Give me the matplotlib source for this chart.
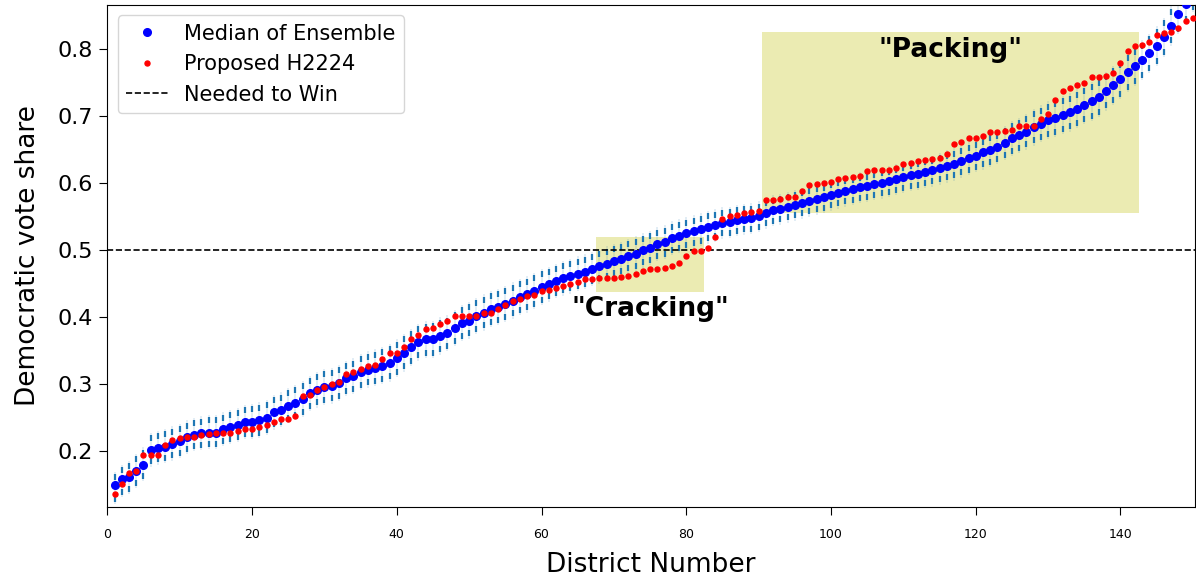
import matplotlib
matplotlib.use("Agg")
import matplotlib.pyplot as plt
from matplotlib.patches import Rectangle
import numpy as np

# districts 1..150, sorted by vote share
districts = list(range(1, 151))

median_ensemble = [
    0.150, 0.159, 0.162, 0.170, 0.179, 0.202, 0.205, 0.207, 0.211, 0.215,
    0.221, 0.225, 0.227, 0.228, 0.228, 0.233, 0.236, 0.239, 0.243, 0.244,
    0.246, 0.250, 0.258, 0.262, 0.268, 0.272, 0.278, 0.287, 0.292, 0.296,
    0.298, 0.302, 0.309, 0.312, 0.318, 0.322, 0.325, 0.328, 0.332, 0.339,
    0.347, 0.355, 0.363, 0.367, 0.367, 0.372, 0.376, 0.384, 0.391, 0.395,
    0.402, 0.407, 0.412, 0.415, 0.420, 0.425, 0.430, 0.434, 0.439, 0.445,
    0.449, 0.454, 0.458, 0.461, 0.465, 0.468, 0.472, 0.476, 0.480, 0.484,
    0.487, 0.491, 0.495, 0.500, 0.504, 0.509, 0.512, 0.518, 0.521, 0.525,
    0.528, 0.531, 0.535, 0.538, 0.541, 0.542, 0.545, 0.547, 0.548, 0.551,
    0.556, 0.560, 0.562, 0.565, 0.568, 0.571, 0.574, 0.577, 0.579, 0.583,
    0.586, 0.589, 0.591, 0.594, 0.596, 0.599, 0.601, 0.603, 0.606, 0.609,
    0.612, 0.614, 0.617, 0.619, 0.622, 0.626, 0.629, 0.633, 0.637, 0.641,
    0.646, 0.650, 0.654, 0.660, 0.667, 0.672, 0.677, 0.684, 0.689, 0.694,
    0.698, 0.702, 0.706, 0.711, 0.717, 0.722, 0.728, 0.737, 0.746, 0.755,
    0.766, 0.775, 0.784, 0.794, 0.805, 0.818, 0.835, 0.852, 0.867, 0.885,
]

proposed_h2224 = [
    0.137, 0.151, 0.168, 0.171, 0.194, 0.194, 0.195, 0.209, 0.217, 0.220,
    0.222, 0.222, 0.224, 0.226, 0.227, 0.227, 0.228, 0.230, 0.233, 0.234,
    0.236, 0.239, 0.243, 0.248, 0.248, 0.252, 0.282, 0.284, 0.292, 0.296,
    0.300, 0.303, 0.315, 0.319, 0.323, 0.327, 0.329, 0.338, 0.346, 0.347,
    0.355, 0.367, 0.374, 0.382, 0.384, 0.390, 0.395, 0.402, 0.402, 0.402,
    0.402, 0.406, 0.407, 0.413, 0.418, 0.425, 0.427, 0.432, 0.433, 0.439,
    0.441, 0.443, 0.446, 0.449, 0.452, 0.457, 0.457, 0.459, 0.459, 0.459,
    0.460, 0.462, 0.464, 0.469, 0.472, 0.472, 0.474, 0.477, 0.481, 0.491,
    0.499, 0.499, 0.504, 0.520, 0.547, 0.551, 0.553, 0.556, 0.557, 0.559,
    0.575, 0.575, 0.577, 0.580, 0.580, 0.589, 0.597, 0.599, 0.601, 0.602,
    0.606, 0.608, 0.610, 0.611, 0.618, 0.619, 0.620, 0.620, 0.622, 0.629,
    0.630, 0.633, 0.634, 0.636, 0.637, 0.644, 0.659, 0.661, 0.667, 0.667,
    0.671, 0.677, 0.677, 0.678, 0.679, 0.685, 0.686, 0.686, 0.696, 0.703,
    0.724, 0.737, 0.742, 0.747, 0.750, 0.758, 0.759, 0.760, 0.765, 0.780,
    0.797, 0.805, 0.806, 0.810, 0.821, 0.824, 0.826, 0.832, 0.842, 0.846,
]

# distance from the median up/down to the ensemble whisker marks
spread_up = [
    0.011, 0.013, 0.016, 0.018, 0.019, 0.018, 0.018, 0.019, 0.018, 0.018,
    0.017, 0.017, 0.017, 0.018, 0.018, 0.017, 0.018, 0.018, 0.018, 0.019,
    0.019, 0.019, 0.018, 0.018, 0.019, 0.019, 0.019, 0.018, 0.019, 0.019,
    0.019, 0.019, 0.018, 0.019, 0.019, 0.019, 0.019, 0.020, 0.020, 0.020,
    0.020, 0.020, 0.019, 0.019, 0.020, 0.020, 0.019, 0.019, 0.020, 0.020,
    0.019, 0.019, 0.019, 0.019, 0.019, 0.019, 0.019, 0.019, 0.019, 0.019,
    0.018, 0.018, 0.018, 0.018, 0.018, 0.018, 0.018, 0.018, 0.018, 0.018,
    0.018, 0.018, 0.018, 0.017, 0.017, 0.017, 0.017, 0.017, 0.017, 0.016,
    0.016, 0.016, 0.016, 0.015, 0.015, 0.015, 0.015, 0.014, 0.014, 0.014,
    0.014, 0.014, 0.014, 0.014, 0.014, 0.014, 0.014, 0.014, 0.014, 0.014,
    0.014, 0.014, 0.014, 0.014, 0.014, 0.014, 0.014, 0.014, 0.014, 0.014,
    0.014, 0.014, 0.014, 0.014, 0.015, 0.015, 0.015, 0.015, 0.016, 0.016,
    0.016, 0.017, 0.017, 0.018, 0.018, 0.018, 0.019, 0.019, 0.019, 0.020,
    0.020, 0.020, 0.020, 0.021, 0.021, 0.021, 0.021, 0.021, 0.021, 0.021,
    0.021, 0.021, 0.021, 0.021, 0.021, 0.021, 0.021, 0.021, 0.021, 0.021,
]
spread_down = [
    0.021, 0.019, 0.018, 0.017, 0.016, 0.017, 0.017, 0.017, 0.017, 0.017,
    0.017, 0.017, 0.017, 0.017, 0.017, 0.017, 0.017, 0.017, 0.017, 0.018,
    0.018, 0.018, 0.018, 0.018, 0.018, 0.018, 0.019, 0.019, 0.019, 0.019,
    0.019, 0.019, 0.019, 0.019, 0.019, 0.019, 0.020, 0.020, 0.020, 0.020,
    0.020, 0.020, 0.020, 0.020, 0.020, 0.020, 0.019, 0.019, 0.019, 0.019,
    0.019, 0.019, 0.019, 0.019, 0.019, 0.019, 0.019, 0.019, 0.019, 0.019,
    0.018, 0.018, 0.018, 0.018, 0.018, 0.018, 0.018, 0.018, 0.018, 0.018,
    0.018, 0.018, 0.018, 0.018, 0.018, 0.017, 0.017, 0.017, 0.017, 0.017,
    0.017, 0.017, 0.017, 0.017, 0.016, 0.016, 0.016, 0.016, 0.016, 0.016,
    0.016, 0.016, 0.016, 0.016, 0.016, 0.016, 0.016, 0.016, 0.016, 0.016,
    0.016, 0.016, 0.016, 0.016, 0.016, 0.016, 0.016, 0.016, 0.016, 0.016,
    0.016, 0.016, 0.016, 0.016, 0.016, 0.017, 0.017, 0.017, 0.017, 0.017,
    0.018, 0.018, 0.018, 0.018, 0.019, 0.019, 0.019, 0.020, 0.020, 0.020,
    0.021, 0.021, 0.021, 0.021, 0.021, 0.021, 0.021, 0.021, 0.022, 0.022,
    0.022, 0.022, 0.022, 0.022, 0.022, 0.022, 0.022, 0.022, 0.022, 0.022,
]

x = np.array(districts)
med = np.array(median_ensemble)
prop = np.array(proposed_h2224)
hi = med + np.array(spread_up)
lo = med - np.array(spread_down)

fig = plt.figure(figsize=(11.96, 5.82), dpi=100)
ax = fig.add_axes([0.0897, 0.129, 0.9095, 0.8625])

# highlighted regions
ax.add_patch(Rectangle((67.5, 0.438), 15, 0.082, color="y", alpha=0.3, lw=0, zorder=0))
ax.add_patch(Rectangle((90.5, 0.555), 52, 0.27, color="y", alpha=0.3, lw=0, zorder=0))

# ensemble spread: faint line plus short dashes
ax.vlines(x, lo - 0.008, hi + 0.008, color="C0", alpha=0.15, lw=1.2, zorder=1)
ax.plot(x, hi, ls="none", marker="|", ms=4, mew=1.6, color="C0", zorder=2)
ax.plot(x, lo, ls="none", marker="|", ms=4, mew=1.6, color="C0", zorder=2)

ax.plot(x, med, "o", color="blue", ms=5.5, label="Median of Ensemble", zorder=3)
ax.plot(x, prop, "o", color="red", ms=3.6, label="Proposed H2224", zorder=4)
ax.axhline(0.5, color="black", ls="--", lw=1.2, label="Needed to Win", zorder=2)

ax.text(75, 0.412, '"Cracking"', fontsize=19, fontweight="bold", ha="center", va="center")
ax.text(116.5, 0.7985, '"Packing"', fontsize=19, fontweight="bold", ha="center", va="center")

ax.set_xlim(0, 150.3)
ax.set_ylim(0.117, 0.866)
ax.tick_params(axis="y", labelsize=16, length=5.5, pad=5)
ax.tick_params(axis="x", labelsize=9, length=6, pad=9)
ax.set_xlabel("District Number", fontsize=19, labelpad=8)
ax.set_ylabel("Democratic vote share", fontsize=19, labelpad=12)
ax.legend(loc="upper left", fontsize=15)

plt.savefig("out.png", dpi=100)
